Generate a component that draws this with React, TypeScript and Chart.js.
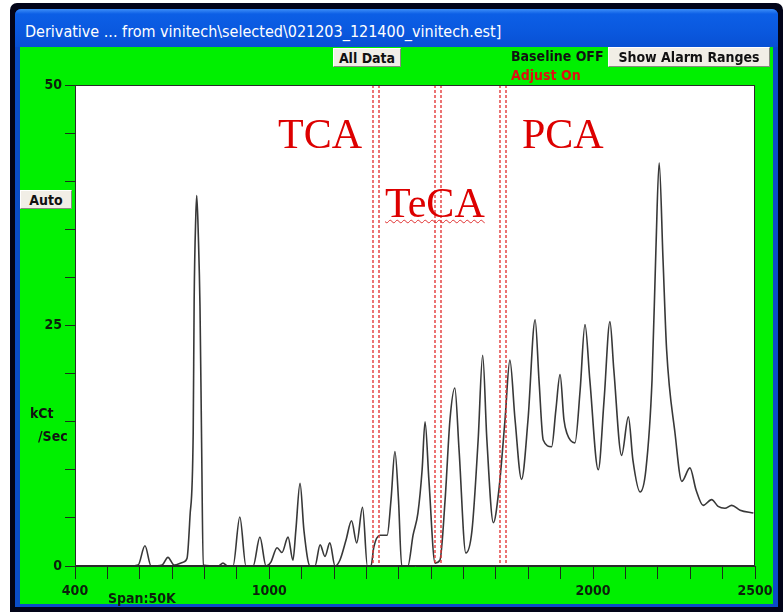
import React, { useEffect, useRef } from 'react';
import { Chart, registerables } from 'chart.js';

Chart.register(...registerables);

// m/z (x) and derivative signal in kCt/Sec (y)
const massValues = [
  400, 570, 595, 616, 635, 669, 687, 706, 734, 746, 755, 765, 768, 773, 776, 781, 786, 791, 796,
  842, 857, 872, 888, 909, 928, 950, 971, 990, 1005, 1024, 1039, 1058, 1073, 1082, 1095, 1107,
  1126, 1141, 1157, 1172, 1187, 1203, 1218, 1237, 1254, 1270, 1288, 1303, 1314, 1323, 1342, 1364,
  1376, 1388, 1399, 1409, 1428, 1444, 1459, 1472, 1481, 1493, 1512, 1527, 1543, 1558, 1573, 1586,
  1607, 1626, 1645, 1659, 1672, 1692, 1709, 1728, 1743, 1759, 1779, 1799, 1821, 1833, 1846, 1872,
  1885, 1898, 1910, 1919, 1944, 1960, 1975, 1990, 2016, 2034, 2052, 2064, 2088, 2109, 2123, 2145,
  2163, 2182, 2194, 2204, 2216, 2227, 2253, 2274, 2299, 2318, 2340, 2366, 2386, 2407, 2428, 2454, 2495,
];
const intensity = [
  0, 0, 0.1, 2.1, 0, 0.1, 0.9, 0.1, 0.4, 0.8, 5.1, 13.8, 27.7, 36.3, 38.5, 34.2, 27.0, 12.8, 0.1,
  0, 0.3, 0, 0, 5.1, 0, 0, 3.0, 0, 0.4, 1.9, 1.4, 3.0, 0.6, 3.7, 8.6, 3.7,
  0, 0, 2.2, 1.0, 2.4, 0, 0.6, 2.7, 4.7, 2.4, 6.1, 0, 0, 2.0, 3.2, 3.2,
  6.9, 11.9, 6.9, 0, 0, 3.2, 5.5, 10.0, 15.0, 8.9, 0.3, 0.6, 6.9, 15.2, 18.5, 12.1,
  1.35, 3.7, 13.1, 21.9, 13.1, 4.5, 7.9, 15.2, 21.4, 15.2, 9.0, 15.2, 25.6, 19.3, 13.1, 12.4,
  16.2, 19.9, 15.2, 13.8, 12.8, 18.3, 25.1, 19.3, 10.0, 17.3, 25.4, 20.4, 11.5, 15.5, 11.0, 7.7,
  10.0, 19.3, 32.9, 41.9, 31.8, 22.5, 13.8, 8.8, 10.2, 7.9, 6.3, 6.9, 6.2, 6.0, 6.3, 5.8, 5.5,
];
const xTickLabels = [400, 1000, 2000, 2500];
const yTickLabels = [0, 25, 50];
const regionBounds = [1320, 1339, 1512, 1530, 1712, 1731];
const regionNames = ['TCA', 'TeCA', 'PCA'];

const NARROW = "'DejaVu Sans Condensed', 'Liberation Sans Narrow', 'Arial Narrow', sans-serif";

const frameStyle = (l: number, t: number, w: number, h: number, extra: React.CSSProperties = {}): React.CSSProperties => ({
  position: 'absolute', left: l, top: t, width: w, height: h, ...extra,
});

const buttonStyle = (l: number, t: number, w: number, h: number): React.CSSProperties => ({
  position: 'absolute', left: l, top: t, width: w, height: h, boxSizing: 'border-box',
  background: '#f1eee6', borderTop: '1px solid #ffffff', borderLeft: '1px solid #ffffff',
  borderRight: '1px solid #8a8a80', borderBottom: '1px solid #8a8a80',
  font: `bold 14px ${NARROW}`, color: '#111', display: 'flex', alignItems: 'center', justifyContent: 'center',
  whiteSpace: 'nowrap',
});

export default function App() {
  const canvasRef = useRef<HTMLCanvasElement | null>(null);

  useEffect(() => {
    const canvas = canvasRef.current;
    if (!canvas) return;

    const plotFrame = {
      id: 'plotFrame',
      beforeDatasetsDraw(chart: any) {
        const { ctx, chartArea: a } = chart;
        ctx.save();
        ctx.fillStyle = '#ffffff';
        ctx.fillRect(a.left, a.top, a.right - a.left, a.bottom - a.top);
        ctx.restore();
      },
      afterDatasetsDraw(chart: any) {
        const { ctx, chartArea: a, scales } = chart;
        ctx.save();
        ctx.strokeStyle = 'rgba(225,50,50,0.9)';
        ctx.lineWidth = 1.5;
        ctx.setLineDash([3, 2]);
        regionBounds.forEach((v) => {
          const px = Math.round(scales.x.getPixelForValue(v));
          ctx.beginPath();
          ctx.moveTo(px, a.top);
          ctx.lineTo(px, a.bottom);
          ctx.stroke();
        });
        ctx.setLineDash([]);
        ctx.lineWidth = 1;
        ctx.strokeStyle = '#2a2a2a';
        ctx.strokeRect(a.left + 0.5, a.top + 0.5, a.right - a.left - 1, a.bottom - a.top - 1);
        ctx.restore();
      },
    };

    const tickFont = { family: NARROW, size: 14, weight: 'bold' as const };

    const chart = new Chart(canvas, {
      type: 'line',
      data: {
        datasets: [
          {
            data: massValues.map((x, i) => ({ x, y: intensity[i] })),
            borderColor: '#383838',
            borderWidth: 1.6,
            pointRadius: 0,
            cubicInterpolationMode: 'monotone',
            fill: false,
          },
        ],
      },
      options: {
        responsive: false,
        animation: false,
        layout: { padding: { left: 0, top: 85, right: 28, bottom: 0 } },
        plugins: { legend: { display: false }, tooltip: { enabled: false } },
        scales: {
          x: {
            type: 'linear',
            min: 400,
            max: 2500,
            afterFit: (s: any) => { s.height = 46; },
            ticks: {
              stepSize: 100,
              autoSkip: false,
              maxRotation: 0,
              padding: 4,
              color: '#0c200c',
              font: tickFont,
              callback: (v: any) => (xTickLabels.includes(Number(v)) ? String(v) : ''),
            },
            grid: { drawOnChartArea: false, tickLength: 13, color: '#1a2e1a', lineWidth: 1 },
            border: { color: '#2a2a2a', width: 1 },
          },
          y: {
            min: 0,
            max: 50,
            afterFit: (s: any) => { s.width = 75; },
            ticks: {
              stepSize: 5,
              padding: 3,
              color: '#0c200c',
              font: tickFont,
              callback: (v: any) => (yTickLabels.includes(Number(v)) ? String(v) : ''),
            },
            grid: { drawOnChartArea: false, tickLength: 10, color: '#1a2e1a', lineWidth: 1 },
            border: { color: '#2a2a2a', width: 1 },
          },
        },
      },
      plugins: [plotFrame],
    } as any);

    return () => chart.destroy();
  }, []);

  const labelStyle: React.CSSProperties = {
    position: 'absolute', font: "42px 'Liberation Serif', 'Times New Roman', serif",
    color: '#dd0000', lineHeight: 1, whiteSpace: 'nowrap',
  };

  return (
    <div style={{ position: 'fixed', left: 0, top: 0, width: 783, height: 612, background: '#ffffff', overflow: 'hidden' }}>
      {/* window frame */}
      <div style={frameStyle(10, 3, 773, 609, { background: '#020418', borderTopLeftRadius: 7, borderTopRightRadius: 7 })} />
      <div style={frameStyle(15, 9, 763, 598, { background: '#0a4cc8', borderTopLeftRadius: 6, borderTopRightRadius: 6 })} />
      <div style={frameStyle(15, 9, 763, 38, {
        background: 'linear-gradient(#3d8ef7 0px, #0c5fe6 5px, #0a58de 60%, #0850d4 100%)',
        borderTopLeftRadius: 6, borderTopRightRadius: 6,
      })} />
      <div style={frameStyle(25, 20, 600, 24, {
        color: '#ffffff', font: `16px ${NARROW}`, whiteSpace: 'nowrap', lineHeight: '24px',
      })}>
        {'Derivative ... from vinitech\\selected\\021203_121400_vinitech.est]'}
      </div>
      <div style={frameStyle(20, 47, 753, 557, { background: '#00f000' })} />

      <canvas ref={canvasRef} width={783} height={612} style={{ position: 'absolute', left: 0, top: 0, width: 783, height: 612 }} />

      {/* controls */}
      <div style={buttonStyle(333, 48, 68, 19)}>All Data</div>
      <div style={frameStyle(511, 46, 96, 20, { font: `bold 14px ${NARROW}`, color: '#111', lineHeight: '20px', whiteSpace: 'nowrap' })}>Baseline OFF</div>
      <div style={frameStyle(511, 65, 96, 20, { font: `bold 14px ${NARROW}`, color: '#e01010', lineHeight: '20px', whiteSpace: 'nowrap' })}>Adjust On</div>
      <div style={buttonStyle(608, 47, 162, 20)}>Show Alarm Ranges</div>
      <div style={buttonStyle(20, 190, 52, 19)}>Auto</div>
      <div style={frameStyle(30, 403, 40, 20, { font: `bold 14px ${NARROW}`, color: '#111', lineHeight: '20px' })}>kCt</div>
      <div style={frameStyle(38, 426, 40, 20, { font: `bold 14px ${NARROW}`, color: '#111', lineHeight: '20px' })}>/Sec</div>
      <div style={frameStyle(108, 588, 80, 20, { font: `bold 14px ${NARROW}`, color: '#0c200c', lineHeight: '20px', whiteSpace: 'nowrap' })}>Span:50K</div>

      {/* region labels */}
      <div style={{ ...labelStyle, left: 278, top: 113 }}>{regionNames[0]}</div>
      <div style={{
        ...labelStyle, left: 385, top: 182, textDecoration: 'underline wavy #e03030',
        textDecorationThickness: 1, textUnderlineOffset: 2,
      }}>{regionNames[1]}</div>
      <div style={{ ...labelStyle, left: 522, top: 113 }}>{regionNames[2]}</div>
    </div>
  );
}
